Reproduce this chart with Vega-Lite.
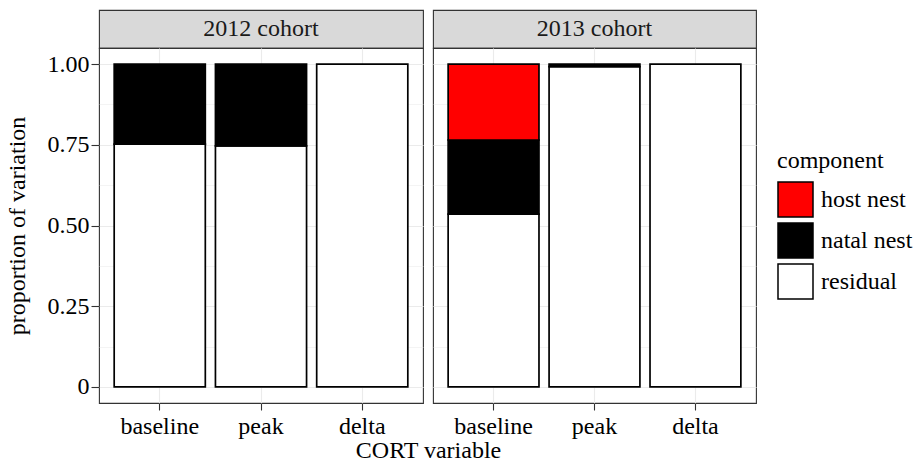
{
  "$schema": "https://vega.github.io/schema/vega-lite/v6.json",
  "padding": {"left": 4, "top": 9, "right": 0, "bottom": 0},
  "background": "white",
  "config": {
    "font": "Liberation Serif",
    "view": {"stroke": "#333333", "strokeWidth": 1.1},
    "axis": {
      "labelFont": "Liberation Serif",
      "titleFont": "Liberation Serif",
      "labelFontSize": 24,
      "titleFontSize": 24,
      "labelColor": "black",
      "titleColor": "black",
      "titleFontWeight": "normal",
      "tickColor": "#333333",
      "tickWidth": 1.1,
      "domain": false,
      "gridColor": "#ebebeb"
    },
    "legend": {
      "orient": "none",
      "legendX": 678,
      "legendY": 139,
      "padding": 0,
      "titleFont": "Liberation Serif",
      "titleFontSize": 24,
      "titleFontWeight": "normal",
      "titleColor": "black",
      "titlePadding": 8,
      "labelFont": "Liberation Serif",
      "labelFontSize": 24,
      "labelColor": "black",
      "labelOffset": 7,
      "symbolType": "square",
      "symbolSize": 1225,
      "symbolStrokeColor": "black",
      "symbolStrokeWidth": 1.5,
      "rowPadding": 0
    }
  },
  "datasets": {
    "bars": [
      {"cohort": "2012 cohort", "variable": "baseline", "component": "residual", "value": 0.752},
      {"cohort": "2012 cohort", "variable": "baseline", "component": "natal nest", "value": 0.248},
      {"cohort": "2012 cohort", "variable": "peak", "component": "residual", "value": 0.747},
      {"cohort": "2012 cohort", "variable": "peak", "component": "natal nest", "value": 0.253},
      {"cohort": "2012 cohort", "variable": "delta", "component": "residual", "value": 1.0},
      {"cohort": "2013 cohort", "variable": "baseline", "component": "residual", "value": 0.535},
      {"cohort": "2013 cohort", "variable": "baseline", "component": "natal nest", "value": 0.23},
      {"cohort": "2013 cohort", "variable": "baseline", "component": "host nest", "value": 0.235},
      {"cohort": "2013 cohort", "variable": "peak", "component": "residual", "value": 0.992},
      {"cohort": "2013 cohort", "variable": "peak", "component": "natal nest", "value": 0.008},
      {"cohort": "2013 cohort", "variable": "delta", "component": "residual", "value": 1.0}
    ],
    "strips": [
      {"cohort": "2012 cohort"},
      {"cohort": "2013 cohort"}
    ]
  },
  "bounds": "flush",
  "columns": 2,
  "spacing": {"row": 0, "column": 10},
  "concat": [
    {
      "width": 324,
      "height": 38,
      "view": {"fill": "#d9d9d9", "stroke": "#333333", "strokeWidth": 1.1},
      "data": {"name": "strips"},
      "transform": [{"filter": "datum.cohort === '2012 cohort'"}],
      "mark": {"type": "text", "fontSize": 24, "font": "Liberation Serif", "color": "#1a1a1a"},
      "encoding": {"text": {"field": "cohort", "type": "nominal"}}
    },
    {
      "width": 323,
      "height": 38,
      "view": {"fill": "#d9d9d9", "stroke": "#333333", "strokeWidth": 1.1},
      "data": {"name": "strips"},
      "transform": [{"filter": "datum.cohort === '2013 cohort'"}],
      "mark": {"type": "text", "fontSize": 24, "font": "Liberation Serif", "color": "#1a1a1a"},
      "encoding": {"text": {"field": "cohort", "type": "nominal"}}
    },
    {
      "width": 324,
      "height": 355,
      "data": {"name": "bars"},
      "transform": [{"filter": "datum.cohort === '2012 cohort'"}],
      "mark": {"type": "bar", "stroke": "black", "strokeWidth": 1.7},
      "encoding": {
        "x": {
          "field": "variable", "type": "nominal",
          "sort": ["baseline", "peak", "delta"],
          "scale": {"paddingInner": 0.1, "paddingOuter": 0.15},
          "axis": {
            "title": "CORT variable",
            "titleX": 329, "titleY": 54, "titleAlign": "center", "titleBaseline": "alphabetic",
            "labelAngle": 0, "labelPadding": 4, "tickSize": 7,
            "bandPosition": 0.5, "grid": true, "gridWidth": 1.1
          }
        },
        "y": {
          "field": "value", "type": "quantitative", "stack": "zero",
          "scale": {"domain": [-0.05, 1.05], "nice": false, "zero": false},
          "axis": {
            "title": "proportion of variation",
            "titlePadding": 18,
            "values": [0, 0.125, 0.25, 0.375, 0.5, 0.625, 0.75, 0.875, 1],
            "labelExpr": "datum.value === 0 ? '0' : (datum.value % 0.25 === 0 ? format(datum.value, '.2f') : '')",
            "tickSize": 8, "labelPadding": 2,
            "tickOpacity": {"condition": {"test": "datum.value % 0.25 !== 0", "value": 0}, "value": 1},
            "gridWidth": {"condition": {"test": "datum.value % 0.25 !== 0", "value": 0.55}, "value": 1.1}
          }
        },
        "color": {
          "field": "component", "type": "nominal",
          "scale": {"domain": ["host nest", "natal nest", "residual"], "range": ["#ff0000", "#000000", "#ffffff"]},
          "legend": {"title": "component"}
        },
        "order": {"field": "component", "sort": "descending"}
      }
    },
    {
      "width": 323,
      "height": 355,
      "data": {"name": "bars"},
      "transform": [{"filter": "datum.cohort === '2013 cohort'"}],
      "mark": {"type": "bar", "stroke": "black", "strokeWidth": 1.7},
      "encoding": {
        "x": {
          "field": "variable", "type": "nominal",
          "sort": ["baseline", "peak", "delta"],
          "scale": {"paddingInner": 0.1, "paddingOuter": 0.15},
          "axis": {
            "title": null,
            "labelAngle": 0, "labelPadding": 4, "tickSize": 7,
            "bandPosition": 0.5, "grid": true, "gridWidth": 1.1
          }
        },
        "y": {
          "field": "value", "type": "quantitative", "stack": "zero",
          "scale": {"domain": [-0.05, 1.05], "nice": false, "zero": false},
          "axis": {
            "title": null,
            "labels": false,
            "ticks": false,
            "values": [0, 0.125, 0.25, 0.375, 0.5, 0.625, 0.75, 0.875, 1],
            "gridWidth": {"condition": {"test": "datum.value % 0.25 !== 0", "value": 0.55}, "value": 1.1}
          }
        },
        "color": {
          "field": "component", "type": "nominal",
          "scale": {"domain": ["host nest", "natal nest", "residual"], "range": ["#ff0000", "#000000", "#ffffff"]},
          "legend": {"title": "component"}
        },
        "order": {"field": "component", "sort": "descending"}
      }
    }
  ],
  "resolve": {"scale": {"y": "independent", "x": "independent"}}
}
